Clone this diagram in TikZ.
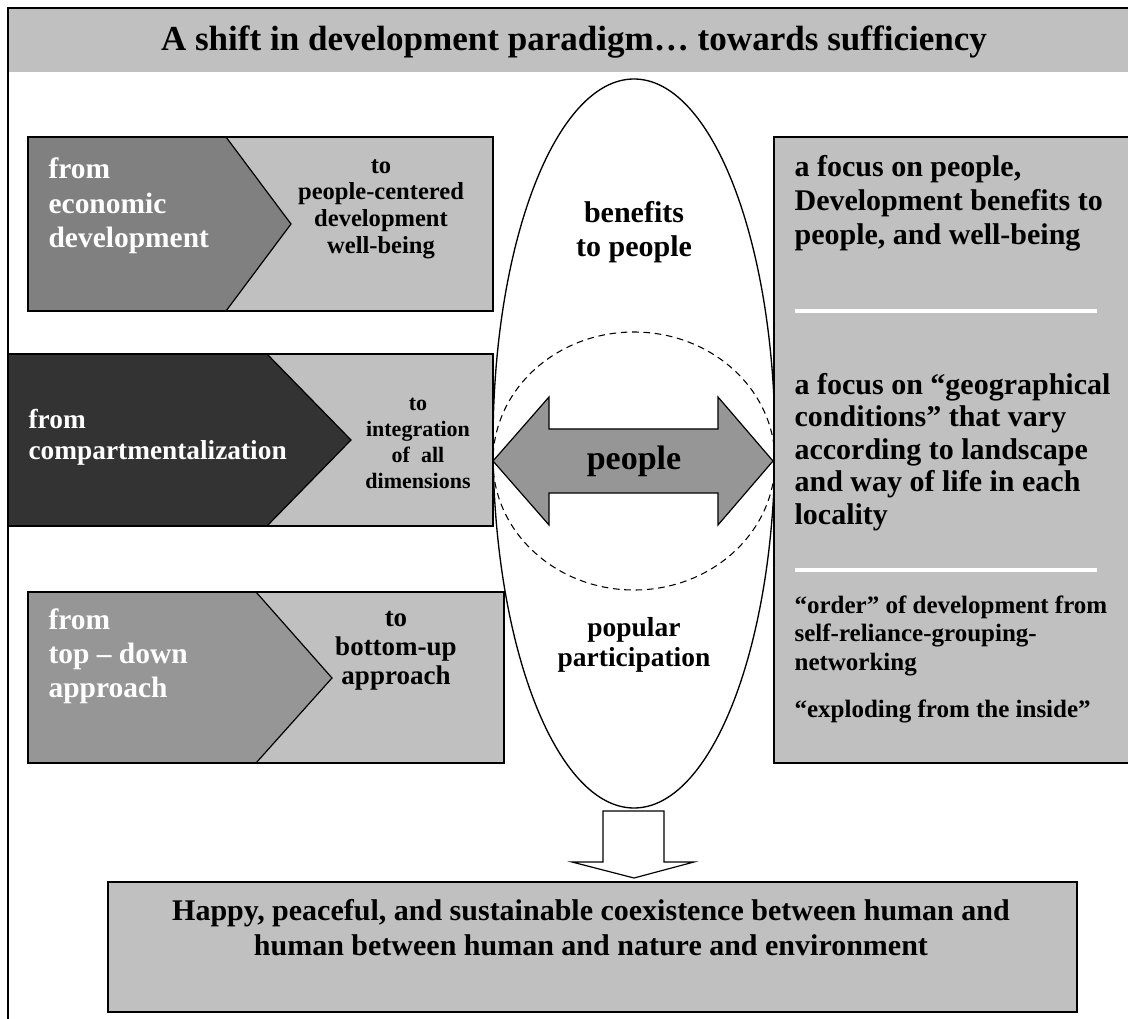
\documentclass[tikz,border=0pt]{standalone}
\usepackage{fontspec}
\setmainfont{Liberation Serif}
\usetikzlibrary{shapes.geometric}
\definecolor{lg}{RGB}{192,192,192}
\definecolor{mg}{RGB}{128,128,128}
\definecolor{dg}{RGB}{51,51,51}
\definecolor{ag}{RGB}{150,150,150}
\newcommand{\fz}[2]{\fontsize{#1}{#2}\selectfont\bfseries}
\begin{document}
\begin{tikzpicture}[x=0.75pt,y=-0.75pt,line width=0.9pt,
  lightbox/.style={draw=black,fill=lg,line width=1pt},
  chev/.style={draw=black,line width=0.9pt},
  wtxt/.style={text=white,align=left,inner sep=0pt,anchor=west},
  btxt/.style={text=black,align=center,inner sep=0pt},
  rtxt/.style={text=black,align=left,inner sep=0pt,anchor=west},
  sep/.style={draw=white,line width=2.4pt}]
\useasboundingbox (0,0) rectangle (1128,1019);
\clip (0,0) rectangle (1128,1019);
% frame and title band
\fill[lg] (8,8) rectangle (1130,72);
\draw[line width=1pt] (8,1025) -- (8,8) -- (1130,8);
\node[btxt,font=\fz{26.3}{30}] (title) at (574,42) {A shift in development paradigm… towards sufficiency};

% central ellipse
\node[draw=black,fill=white,ellipse,line width=1pt,minimum width=282*0.75pt,minimum height=729*0.75pt,inner sep=0pt] (ell) at (634,443.5) {};
\draw[dashed,line width=0.8pt,dash pattern=on 5pt off 3.5pt] (634,461) ellipse [x radius=141, y radius=129];

% row 1
\path[lightbox] (28,137) rectangle (493,311);
\path[chev,fill=mg] (28,137) -- (226,137) -- (291,224) -- (226,311) -- (28,311) -- cycle;
\draw[line width=1pt] (28,137) rectangle (493,311);
\node[wtxt,font=\fz{22.1}{25.9}] (f1) at (48,206) {from\\economic\\development};
\node[btxt,font=\fz{18.4}{20}] (t1) at (381,209) {to\\people-centered\\development\\well-being};

% row 2
\path[lightbox] (8,354) rectangle (493,526);
\path[chev,fill=dg] (8,354) -- (267,354) -- (351,440) -- (267,526) -- (8,526) -- cycle;
\draw[line width=1pt] (8,354) rectangle (493,526);
\node[wtxt,font=\fz{20.5}{23.2}] (f2) at (28,437) {from\\compartmentalization};
\node[btxt,font=\fz{16.5}{19.3}] (t2) at (418,443.5) {to\\integration\\of \ all\\dimensions};

% row 3
\path[lightbox] (28,592) rectangle (504,763);
\path[chev,fill=ag] (28,592) -- (256,592) -- (332,678) -- (256,763) -- (28,763) -- cycle;
\draw[line width=1pt] (28,592) rectangle (504,763);
\node[wtxt,font=\fz{22.1}{25.5}] (f3) at (48,656) {from\\top – down\\approach};
\node[btxt,font=\fz{20.25}{21.75}] (t3) at (396,651) {to\\bottom-up\\approach};

% double arrow
\path[draw=black,fill=ag,line width=0.9pt] (493,461) -- (549,397) -- (549,429) -- (718,429) -- (718,397) -- (773,461) -- (718,525) -- (718,493) -- (549,493) -- (549,525) -- cycle;
\node[btxt,font=\fz{25.5}{28}] (people) at (634,461) {people};

% ellipse texts
\node[btxt,font=\fz{22.5}{25.5}] (ben) at (634,232) {benefits\\to people};
\node[btxt,font=\fz{20.6}{22.5}] (pop) at (634,645) {popular\\participation};

% right box
\path[draw=black,fill=lg,line width=1pt] (1135,137) -- (774,137) -- (774,763) -- (1135,763);
\node[rtxt,font=\fz{22.5}{25.5}] (r1) at (794,203) {a focus on people,\\Development benefits to\\people, and well-being};
\draw[sep] (795,311) -- (1097,311);
\node[rtxt,font=\fz{22.5}{24.4}] (r2) at (794,452) {a focus on “geographical\\conditions” that vary\\according to landscape\\and way of life in each\\locality};
\draw[sep] (795,570) -- (1097,570);
\node[rtxt,font=\fz{18.75}{21.4}] (r3) at (794,635.5) {“order” of development from\\self-reliance-grouping-\\networking};
\node[rtxt,font=\fz{18.75}{21.4}] (r4) at (794,711) {“exploding from the inside”};

% down arrow
\path[draw=black,fill=white,line width=0.9pt] (603,811) -- (664,811) -- (664,862) -- (694,862) -- (634,878) -- (572,862) -- (603,862) -- cycle;

% bottom box
\node[draw=black,fill=lg,line width=1pt,minimum width=969*0.75pt,minimum height=130*0.75pt,inner sep=0pt] (res) at (592.5,947) {};
\node[btxt,font=\fz{22.5}{26.25}] (restxt) at (591,928) {Happy, peaceful, and sustainable coexistence between human and\\human between human and nature and environment};
\end{tikzpicture}
\end{document}
